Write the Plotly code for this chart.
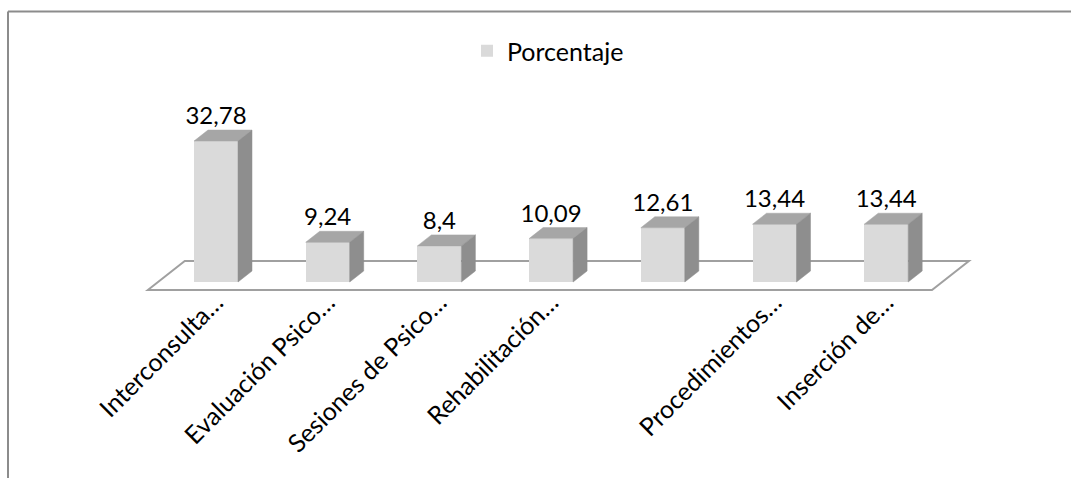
import plotly.graph_objects as go

# ---- data ----
categories = ["Interconsulta…", "Evaluación Psico…", "Sesiones de Psico…",
              "Rehabilitación…", "", "Procedimientos…", "Inserción de…"]
values = [32.78, 9.24, 8.4, 10.09, 12.61, 13.44, 13.44]
series_name = "Porcentaje"

# ---- styling / geometry ----
W, H = 1071, 478
PL, PR, PT, PB = 10, 1061, 80, 295      # plot-area pixel box
CAT_PX = 111.7                           # pixels per category
CAT0_PX = 216                            # pixel x of first category
UNIT_PX = 4.3                            # pixels per value unit
ZERO_PX = 282                            # pixel y of value 0

FRONT = "#dadada"
TOP = "#a6a6a6"
SIDE = "#8e8e8e"
FLOOR_LINE = "#a0a0a0"
FONT = "Lato"

bar_w = 44 / CAT_PX
dx = 14 / CAT_PX
dy = 11 / UNIT_PX

n = len(values)
xs = list(range(n))
labels = [f"{v:g}".replace(".", ",") for v in values]

fig = go.Figure()

# front faces
fig.add_trace(go.Bar(
    x=xs, y=values, width=bar_w, name=series_name,
    marker=dict(color=FRONT, line=dict(width=0)),
    hoverinfo="skip", showlegend=True,
))

# top faces & side faces computed from the data
tx, ty, sx, sy = [], [], [], []
for i, v in zip(xs, values):
    l, r = i - bar_w / 2, i + bar_w / 2
    tx += [l, l + dx, r + dx, r, l, None]
    ty += [v, v + dy, v + dy, v, v, None]
    sx += [r, r, r + dx, r + dx, r, None]
    sy += [0, v, v + dy, dy, 0, None]

fig.add_trace(go.Scatter(x=tx, y=ty, mode="lines", fill="toself",
                         fillcolor=TOP, line=dict(color=TOP, width=0.5),
                         hoverinfo="skip", showlegend=False))
fig.add_trace(go.Scatter(x=sx, y=sy, mode="lines", fill="toself",
                         fillcolor=SIDE, line=dict(color=SIDE, width=0.5),
                         hoverinfo="skip", showlegend=False))

# value labels
fig.add_trace(go.Scatter(
    x=xs, y=[v + dy for v in values], mode="text", text=labels,
    textposition="top center",
    textfont=dict(family=FONT, size=24, color="#000000"),
    hoverinfo="skip", showlegend=False,
))

# floor (derived from category count)
f_front = -8 / UNIT_PX
f_back = 21 / UNIT_PX
f_left = -0.61
f_right = n - 0.59
skew = (f_back - f_front) * dx / dy
floor_path = (f"M {f_left},{f_front} L {f_left + skew},{f_back} "
              f"L {f_right + skew},{f_back} L {f_right},{f_front} Z")
fig.add_shape(type="path", path=floor_path, xref="x", yref="y",
              fillcolor="white", line=dict(color=FLOOR_LINE, width=2),
              layer="below")

# outer frame (top and left edges)
ph = PB - PT
pw = PR - PL
fx = (8 - PL) / pw
fy = (PB - 11.5) / ph
fig.add_shape(type="line", xref="paper", yref="paper",
              x0=fx, y0=fy, x1=1.2, y1=fy, line=dict(color="#8c8c8c", width=2))
fig.add_shape(type="line", xref="paper", yref="paper",
              x0=fx, y0=fy, x1=fx, y1=-2, line=dict(color="#8c8c8c", width=2))

fig.update_layout(
    width=W, height=H,
    margin=dict(l=PL, r=W - PR, t=PT, b=H - PB),
    paper_bgcolor="white", plot_bgcolor="rgba(0,0,0,0)",
    font=dict(family=FONT, size=24, color="#000000"),
    showlegend=True,
    legend=dict(orientation="h", x=(548 - PL) / pw, xanchor="center",
                y=1 + (PT - 51) / ph, yanchor="middle",
                font=dict(family=FONT, size=25, color="#000000"),
                bgcolor="rgba(0,0,0,0)"),
    xaxis=dict(range=[(PL - CAT0_PX) / CAT_PX, (PR - CAT0_PX) / CAT_PX],
               tickmode="array", tickvals=xs, ticktext=categories,
               tickangle=-45, showgrid=False, zeroline=False, showline=False,
               ticks="", ticklabelstandoff=-13,
               tickfont=dict(family=FONT, size=25, color="#000000"),
               fixedrange=True),
    yaxis=dict(range=[(ZERO_PX - PB) / UNIT_PX, (ZERO_PX - PT) / UNIT_PX],
               visible=False, fixedrange=True),
    bargap=0,
)

fig.write_html("out.html")
